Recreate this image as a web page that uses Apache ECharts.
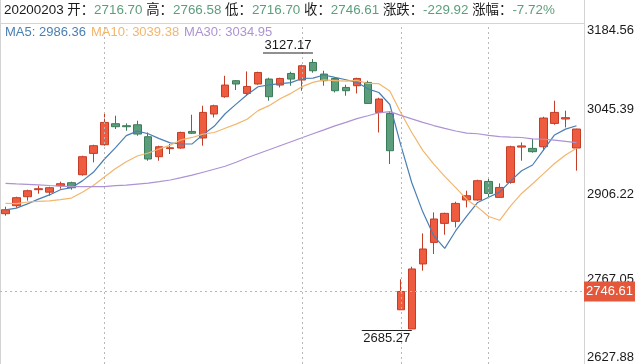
<!DOCTYPE html>
<html><head><meta charset="utf-8">
<script src="https://cdn.jsdelivr.net/npm/echarts@6/dist/echarts.min.js"></script>
<style>html,body{margin:0;padding:0;background:#fff}#c{width:640px;height:364px}</style>
</head><body><div id="c"></div>
<script>
const dates = ['20191204','20191205','20191206','20191209','20191210','20191211','20191212','20191213','20191216','20191217',
'20191218','20191219','20191220','20191223','20191224','20191225','20191226','20191227','20191230','20191231',
'20200102','20200103','20200106','20200107','20200108','20200109','20200110','20200113','20200114','20200115',
'20200116','20200117','20200120','20200121','20200122','20200123','20200203','20200204','20200205','20200206',
'20200207','20200210','20200211','20200212','20200213','20200214','20200217','20200218','20200219','20200220',
'20200221','20200224','20200225'];
const opens = [2874.0,2887.1,2901.8,2913.3,2909.2,2919.8,2924.7,2937.8,2972.7,2986.9,
3021.3,3018.0,3019.6,3000.0,2967.3,2980.5,2981.5,3008.7,2997.9,3037.2,
3065.5,3091.7,3070.9,3086.3,3094.4,3084.6,3103.6,3092.8,3121.6,3102.6,
3095.4,3080.7,3083.5,3088.9,3039.8,3038.1,2716.70,2685.27,2791.7,2827.0,
2858.1,2861.4,2896.4,2896.4,2926.8,2900.7,2925.2,2983.0,2980.9,2983.6,
3021.8,3029.0,2981.5];
const closes = [2880.5,2900.2,2911.6,2914.9,2916.5,2923.1,2916.5,2967.3,2985.3,3023.4,
3016.4,3016.4,3004.4,2963.5,2983.6,2981.9,3007.0,3005.7,3039.8,3050.7,
3084.6,3086.3,3082.3,3105.2,3065.5,3095.4,3094.4,3116.2,3108.0,3091.7,
3075.3,3075.3,3095.4,3054.5,3061.7,2977.1,2746.61,2783.5,2816.2,2865.3,
2874.5,2890.8,2903.4,2928.0,2907.2,2917.0,2983.6,2984.97,2975.5,3030.6,
3039.8,3031.2,3012.6];
const lows = [2870.7,2883.8,2895.3,2906.7,2903.4,2914.9,2913.3,2936.2,2958.0,2985.3,
3012.6,3009.8,3001.6,2960.7,2960.7,2971.7,2980.4,3004.4,2985.3,3031.6,
3063.8,3076.4,3067.1,3085.1,3058.9,3080.7,3083.5,3075.3,3104.8,3083.5,
3072.5,3067.1,3070.9,3054.0,3007.0,2955.3,2716.70,2685.27,2780.7,2808.0,
2839.6,2851.6,2884.3,2895.3,2900.7,2900.0,2923.0,2960.7,2973.8,2977.1,
3019.6,3015.2,2944.4];
const highs = [2885.4,2901.8,2913.3,2919.8,2918.2,2926.4,2926.4,2968.9,2986.9,3039.8,
3034.4,3021.8,3026.2,3007.0,2985.3,2988.1,3008.2,3036.0,3050.7,3052.4,
3099.8,3092.8,3106.9,3106.4,3096.6,3096.6,3106.4,3117.9,3127.17,3108.0,
3096.6,3085.1,3096.6,3091.7,3063.8,3040.9,2766.58,2787.2,2841.7,2876.1,
2875.6,2893.6,2911.6,2929.6,2933.4,2923.6,2985.3,2990.7,2996.2,3032.7,
3058.9,3042.6,3013.1];
const ma5 = [2880.1,2883.0,2890.0,2897.8,2904.7,2913.3,2916.5,2927.7,2941.7,2963.1,
2981.8,3001.8,3009.2,3004.8,2996.9,2990.0,2988.1,2988.3,3003.6,3017.0,
3037.6,3053.4,3068.7,3081.8,3084.8,3086.9,3088.6,3095.3,3095.9,3101.1,
3097.1,3093.3,3089.1,3078.4,3072.4,3052.8,2986.36,2924.7,2877.0,2837.7,
2817.2,2846.1,2870.0,2892.4,2900.8,2909.3,2927.8,2944.2,2953.7,2978.3,
3002.9,3012.4,3017.9];
const ma10 = [2890.8,2890.5,2893.1,2894.0,2894.9,2896.9,2899.6,2909.1,2920.1,2933.9,
2947.5,2959.1,2968.4,2973.3,2980.0,2985.9,2994.9,2998.8,3004.2,3006.9,
3013.8,3020.7,3028.5,3042.7,3050.9,3062.2,3071.0,3082.0,3088.9,3093.0,
3092.0,3090.9,3092.2,3087.2,3086.8,3075.0,3039.38,3006.9,2977.7,2955.1,
2935.0,2916.6,2897.4,2884.7,2869.3,2863.2,2886.9,2907.1,2923.0,2939.6,
2956.1,2970.1,2981.0];
const ma30 = [2923.6,2922.7,2922.1,2921.1,2920.1,2919.2,2918.2,2918.2,2918.2,2918.2,
2919.8,2920.6,2922.3,2923.9,2926.4,2929.1,2932.9,2937.0,2941.9,2946.8,
2951.7,2958.3,2965.6,2972.2,2978.7,2985.3,2991.8,2998.4,3004.9,3011.3,
3017.8,3023.6,3029.7,3034.4,3039.2,3041.0,3034.95,3029.2,3023.6,3018.3,
3013.6,3009.4,3006.0,3004.9,3002.3,3000.2,2999.4,2998.7,2996.5,2995.9,
2994.4,2992.5,2990.2];
const yTicks = [2627.88, 2767.05, 2906.22, 3045.39, 3184.56];
const gridDates = ['20191217','20200113','20200213'];
const crossDate = '20200203';
const crossPrice = 2746.61;
const maxPoint = ['20200114', 3127.17];
const minPoint = ['20200204', 2685.27];
const headerDate = '20200203';
const headerLabels = ['开','高','低','收','涨跌','涨幅'];
const headerValues = ['2716.70','2766.58','2716.70','2746.61','-229.92','-7.72%'];
const maNames = ['MA5','MA10','MA30'];
const maValues = ['2986.36','3039.38','3034.95'];

const FONT = "'Liberation Sans','Noto Sans CJK SC',sans-serif";
const UP = '#ee5b3f', UP_B = '#c43d27', DN = '#5c9e7b', DN_B = '#3a7b58';
const MA_COLORS = ['#4a7fb3', '#f2b66c', '#ad92d4'];
const HF = 13.4;

let header = '{k|' + headerDate + ' }';
headerLabels.forEach((l, i) => {
  header += '{k|' + (i ? ' ' : '') + l + '：}{v|' + headerValues[i] + '}';
});
let legendTxt = maNames.map((n, i) => '{m' + i + '|' + n + ': ' + maValues[i] + '}').join('{s| }');

const kdata = dates.map((d, i) => [opens[i], closes[i], lows[i], highs[i]]);
const dotted = {color: '#b8b8b8', type: [2, 3], width: 1};

const chart = echarts.init(document.getElementById('c'), null, {renderer: 'canvas'});
chart.setOption({
  animation: false,
  backgroundColor: '#fff',
  title: [
    {left: 4, top: 4, text: header, padding: 0,
     textStyle: {fontFamily: FONT, fontSize: HF, fontWeight: 'normal', rich: {
       k: {color: '#1a1a1a', fontFamily: FONT, fontSize: HF},
       v: {color: '#5c9e7b', fontFamily: FONT, fontSize: HF}}}},
    {left: 5, top: 26, text: legendTxt, padding: 0,
     textStyle: {fontFamily: FONT, fontSize: 13, fontWeight: 'normal', rich: {
       m0: {color: MA_COLORS[0], fontFamily: FONT, fontSize: 13},
       m1: {color: MA_COLORS[1], fontFamily: FONT, fontSize: 13},
       m2: {color: MA_COLORS[2], fontFamily: FONT, fontSize: 13},
       s: {fontSize: 13, width: 5}}}}
  ],
  grid: {left: -1, right: 58, top: 24, bottom: 0, containLabel: false},
  xAxis: {type: 'category', data: dates, boundaryGap: true,
    axisLine: {show: false}, axisTick: {show: false}, axisLabel: {show: false}, splitLine: {show: false}},
  yAxis: {type: 'value', position: 'right', offset: 2, min: yTicks[0], max: yTicks[yTicks.length - 1], scale: true,
    axisLine: {show: false}, axisTick: {show: false}, splitLine: {show: false},
    axisLabel: {customValues: yTicks, formatter: v => v.toFixed(2), color: '#1a1a1a', fontFamily: FONT, fontSize: 13,
      margin: 3, verticalAlignMinLabel: 'bottom', verticalAlignMaxLabel: 'top'}},
  graphic: [
    {type: 'line', shape: {x1: 0, y1: 23.5, x2: 584, y2: 23.5}, style: {stroke: '#d4d4d4', lineWidth: 1}, silent: true},
    {type: 'line', shape: {x1: 0.5, y1: 0, x2: 0.5, y2: 364}, style: {stroke: '#d4d4d4', lineWidth: 1}, silent: true},
    {type: 'line', shape: {x1: 584.5, y1: 0, x2: 584.5, y2: 364}, style: {stroke: '#d4d4d4', lineWidth: 1}, silent: true}
  ],
  series: [
    {type: 'candlestick', data: kdata, barWidth: 8,
     itemStyle: {color: UP, color0: DN, borderColor: UP_B, borderColor0: DN_B, borderWidth: 1},
     markLine: {symbol: 'none', silent: true, animation: false,
       data: gridDates.map(d => ({xAxis: d, lineStyle: dotted, label: {show: false}})).concat([
         {xAxis: crossDate, lineStyle: dotted, label: {show: false}},
         {yAxis: crossPrice, lineStyle: dotted,
          label: {show: true, position: 'end', distance: 2, formatter: crossPrice.toFixed(2), color: '#fff',
            backgroundColor: '#e5573b', padding: [4, 2, 3, 2], fontFamily: FONT, fontSize: 13}}
       ])},
     markPoint: {silent: true, animation: false,
       data: [
         {coord: maxPoint, symbol: 'rect', symbolSize: [50, 1], symbolOffset: [-25, -6],
          itemStyle: {color: '#222'},
          label: {show: true, position: 'top', distance: 1, formatter: maxPoint[1].toFixed(2), color: '#1a1a1a', fontFamily: FONT, fontSize: 13}},
         {coord: minPoint, symbol: 'rect', symbolSize: [50, 1], symbolOffset: [-25, 1.5],
          itemStyle: {color: '#222'},
          label: {show: true, position: 'bottom', distance: 1, formatter: minPoint[1].toFixed(2), color: '#1a1a1a', fontFamily: FONT, fontSize: 13}}
       ]}
    },
    {type: 'line', name: 'MA5', data: ma5, symbol: 'none', lineStyle: {color: MA_COLORS[0], width: 1.2}, z: 3},
    {type: 'line', name: 'MA10', data: ma10, symbol: 'none', lineStyle: {color: MA_COLORS[1], width: 1.2}, z: 3},
    {type: 'line', name: 'MA30', data: ma30, symbol: 'none', lineStyle: {color: MA_COLORS[2], width: 1.2}, z: 3}
  ]
});
</script></body></html>
